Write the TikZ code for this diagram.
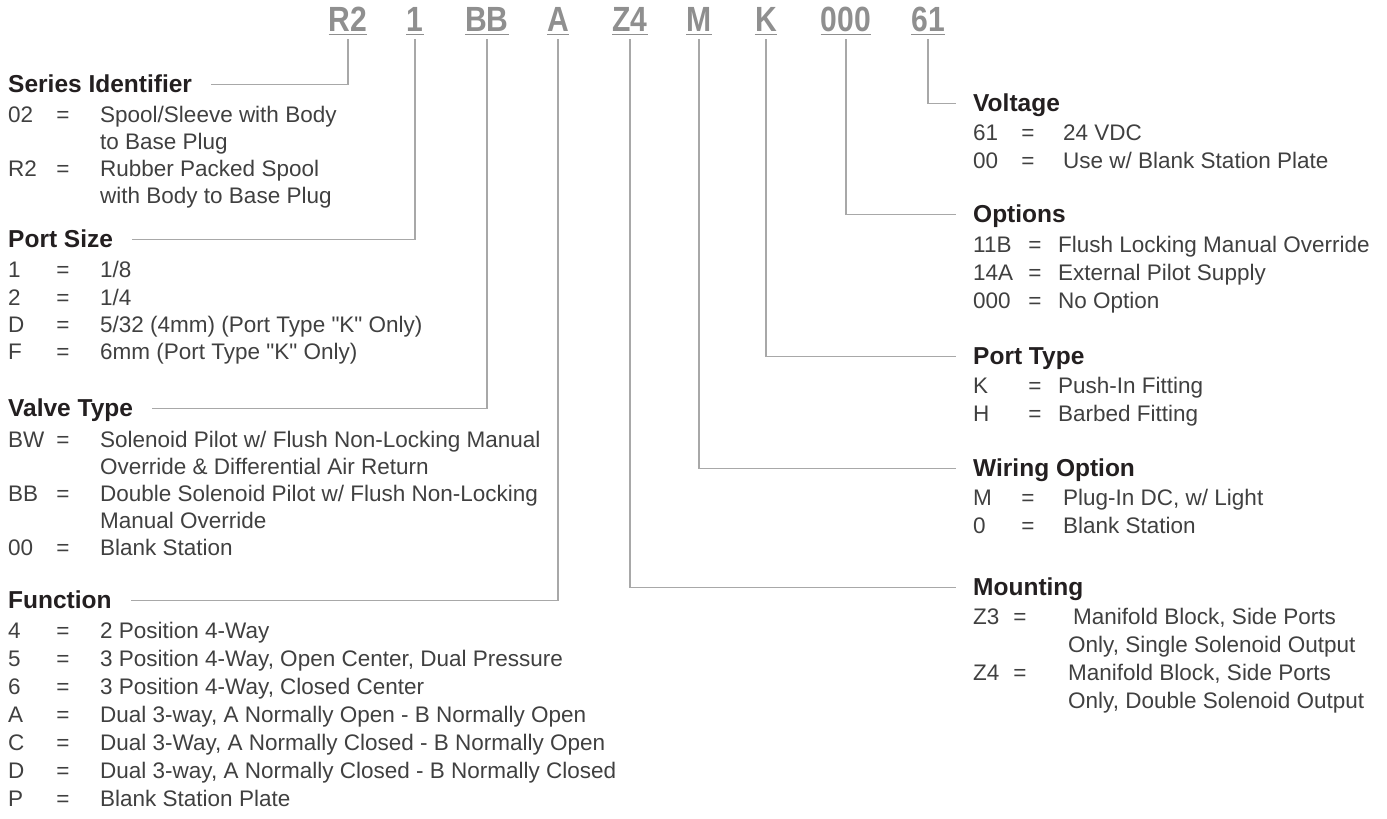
\documentclass[tikz,border=0pt]{standalone}
\usepackage{fontspec}
\newfontfamily\basefont{Liberation Sans}
\definecolor{codegray}{HTML}{8F8F8F}
\definecolor{rulegray}{HTML}{A8A8A8}
\definecolor{textgray}{HTML}{404040}
\definecolor{headblack}{HTML}{231F20}
\tikzset{
  code/.style={inner sep=0pt, anchor=base, text=codegray,
    font=\basefont\fontsize{35}{35}\selectfont\bfseries},
  head/.style={inner sep=0pt, anchor=base west, text=headblack,
    font=\basefont\fontsize{24.5}{25}\selectfont\bfseries},
  item/.style={inner sep=0pt, anchor=base west, text=textgray,
    font=\basefont\fontsize{22.5}{24}\selectfont},
  equal/.style={item, anchor=base},
  link/.style={draw=rulegray, line width=1.1pt},
  uline/.style={draw=codegray, line width=1.6pt},
}
\begin{document}
\begin{tikzpicture}[x=1pt, y=-1pt, line cap=butt]
\useasboundingbox (0,0) rectangle (1387,819);
% order code
\foreach \n/\t/\x in {ser/R2/348, psz/1/415, vlv/BB/487, fun/A/558, mnt/Z4/630,
    wir/M/699, prt/K/766, opt/000/846, vol/61/928}{
  \node[code] (c-\n) at (\x,31) {\scalebox{0.86}[1]{\t}};
  \draw[uline] ([yshift=-3.5pt]c-\n.base west) -- ([yshift=-3.5pt]c-\n.base east);
}
% headings
\node[head] (h-ser) at (8,92) {Series Identifier};
\node[head] (h-psz) at (8,247) {Port Size};
\node[head] (h-vlv) at (8,416) {Valve Type};
\node[head] (h-fun) at (8,608) {Function};
\node[head] (h-vol) at (973,111) {Voltage};
\node[head] (h-opt) at (973,222) {Options};
\node[head] (h-prt) at (973,364) {Port Type};
\node[head] (h-wir) at (973,476) {Wiring Option};
\node[head] (h-mnt) at (973,595) {Mounting};
% connectors
\foreach \n in {ser,psz,vlv,fun}
  \draw[link] ([yshift=-8pt]c-\n.base) |- ([xshift=19pt,yshift=7.5pt]h-\n.base east);
\foreach \n in {mnt,wir,prt,opt,vol}
  \draw[link] ([yshift=-8pt]c-\n.base) |- ([xshift=-17pt,yshift=7.5pt]h-\n.base west);
% left entries
\foreach \s/\rowy/\rowc/\rowd in {ser/122/02/{Spool/Sleeve with Body}, ser/176/R2/{Rubber Packed Spool},
    psz/277/1/{1/8}, psz/305/2/{1/4}, psz/332/D/{5/32 (4mm) (Port Type "K" Only)},
    psz/359/F/{6mm (Port Type "K" Only)},
    vlv/447/BW/{Solenoid Pilot w/ Flush Non-Locking Manual},
    vlv/501/BB/{Double Solenoid Pilot w/ Flush Non-Locking}, vlv/555/00/{Blank Station},
    fun/638/4/{2 Position 4-Way}, fun/666/5/{3 Position 4-Way, Open Center, Dual Pressure},
    fun/694/6/{3 Position 4-Way, Closed Center},
    fun/722/A/{Dual 3-way, A Normally Open - B Normally Open},
    fun/750/C/{Dual 3-Way, A Normally Closed - B Normally Open},
    fun/778/D/{Dual 3-way, A Normally Closed - B Normally Closed},
    fun/806/P/{Blank Station Plate}}{
  \node[item] (\s-c\rowy) at (8,\rowy) {\rowc};
  \node[equal] (\s-e\rowy) at (63,\rowy) {=};
  \node[item] (\s-d\rowy) at (100,\rowy) {\rowd};
}
\node[item] (ser-d149) at (100,149) {to Base Plug};
\node[item] (ser-d203) at (100,203) {with Body to Base Plug};
\node[item] (vlv-d474) at (100,474) {Override \& Differential Air Return};
\node[item] (vlv-d528) at (100,528) {Manual Override};
% right entries
\foreach \s/\rowy/\rowc/\rowe/\rowx/\rowd in {vol/140/61/1028/1063/{24 VDC},
    vol/168/00/1028/1063/{Use w/ Blank Station Plate},
    opt/252/11B/1035/1058/{Flush Locking Manual Override},
    opt/280/14A/1035/1058/{External Pilot Supply}, opt/308/000/1035/1058/{No Option},
    prt/393/K/1035/1058/{Push-In Fitting}, prt/421/H/1035/1058/{Barbed Fitting},
    wir/505/M/1028/1063/{Plug-In DC, w/ Light}, wir/533/0/1028/1063/{Blank Station},
    mnt/624/Z3/1020/1073/{Manifold Block, Side Ports},
    mnt/680/Z4/1020/1068/{Manifold Block, Side Ports}}{
  \node[item] (\s-c\rowy) at (973,\rowy) {\rowc};
  \node[equal] (\s-e\rowy) at (\rowe,\rowy) {=};
  \node[item] (\s-d\rowy) at (\rowx,\rowy) {\rowd};
}
\node[item] (mnt-d652) at (1068,652) {Only, Single Solenoid Output};
\node[item] (mnt-d708) at (1068,708) {Only, Double Solenoid Output};
\end{tikzpicture}
\end{document}
